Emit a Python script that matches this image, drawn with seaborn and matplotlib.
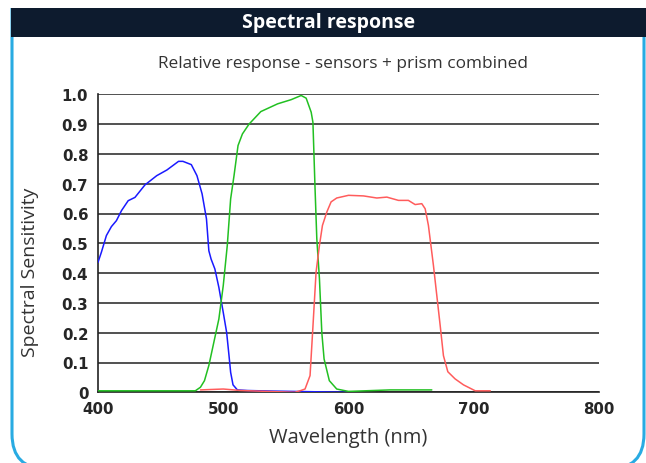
import numpy as np
import matplotlib
matplotlib.use("Agg")
import matplotlib.pyplot as plt
import seaborn as sns
from matplotlib.patches import FancyBboxPatch, Rectangle

# values
blue_nm = [400, 402.7, 406.7, 410.7, 414.7, 418.8, 424.1, 429.5, 437.5, 446.9, 455,
           464.3, 467.8, 474.5, 479, 483.1, 486.6, 488.5, 490.3, 493.3, 496.5, 500,
           502.7, 504.6, 505.9, 507.8, 511.3, 519.3, 540, 570, 600]
blue_val = [0.436, 0.47, 0.526, 0.556, 0.576, 0.61, 0.643, 0.654, 0.696, 0.727, 0.746,
            0.775, 0.775, 0.764, 0.727, 0.666, 0.582, 0.475, 0.447, 0.414, 0.352, 0.268,
            0.201, 0.123, 0.067, 0.025, 0.008, 0.006, 0.004, 0.002, 0.0]

green_nm = [400, 440, 477.7, 481.8, 485, 488.5, 492.5, 496.5, 500, 503.2, 505.9, 508.6,
            511.8, 515.3, 520.6, 530, 543.4, 554.2, 562.2, 566.2, 570.2, 571.6, 573.3,
            574.7, 576.8, 578.7, 580.5, 584.7, 590.6, 600, 633, 666.5]
green_val = [0.005, 0.005, 0.005, 0.017, 0.039, 0.09, 0.168, 0.246, 0.358, 0.492, 0.649,
             0.727, 0.828, 0.867, 0.9, 0.942, 0.968, 0.982, 0.996, 0.987, 0.94, 0.906,
             0.683, 0.515, 0.381, 0.2, 0.112, 0.039, 0.011, 0.003, 0.008, 0.008]

red_nm = [481.8, 500, 514, 535, 557, 562, 565.3, 569.3, 571.5, 574.1, 576.8, 579.2,
          582.7, 586.1, 590.6, 600, 612, 622.6, 630.6, 639.9, 647.8, 653.2, 658.5,
          661.2, 663.8, 667.8, 670.5, 673.2, 675.8, 679.3, 685.1, 691.8, 701.2, 713.2]
red_val = [0.008, 0.011, 0.006, 0.003, 0.0, 0.006, 0.011, 0.056, 0.213, 0.403, 0.493,
           0.56, 0.605, 0.639, 0.652, 0.661, 0.659, 0.652, 0.655, 0.644, 0.644, 0.63,
           0.633, 0.616, 0.56, 0.426, 0.325, 0.224, 0.123, 0.069, 0.045, 0.025, 0.005,
           0.005]

x_ticks = [400, 500, 600, 700, 800]
y_ticks = [0, 0.1, 0.2, 0.3, 0.4, 0.5, 0.6, 0.7, 0.8, 0.9, 1.0]
y_tick_labels = ["0", "0.1", "0.2", "0.3", "0.4", "0.5", "0.6", "0.7", "0.8", "0.9", "1.0"]

sns.set_style("white")
plt.rcParams['font.family'] = ['Open Sans', 'DejaVu Sans']

fig = plt.figure(figsize=(6.46, 4.64), dpi=100)
W, H = 646, 464

# card frame (pixel coordinates, origin bottom-left)
frame = FancyBboxPatch((12, -6), 632, 500, boxstyle="round,pad=0,rounding_size=35",
                       transform=None, facecolor="white", edgecolor="#29abe2",
                       linewidth=2.2, zorder=0)
fig.add_artist(frame)
fig.add_artist(Rectangle((0, H - 9), W, 9, transform=None, facecolor="white",
                         edgecolor="none", zorder=1))
fig.add_artist(Rectangle((11, H - 38), W, 29, transform=None, facecolor="#0d1b2e",
                         edgecolor="none", zorder=2))
fig.text(0.508, (H - 23) / H, "Spectral response", color="white", fontsize=14,
         fontweight="bold", ha="center", va="center", zorder=3)
fig.text(343 / W, (H - 64) / H, "Relative response - sensors + prism combined",
         color="#333333", fontsize=12.4, ha="center", va="center")

ax = fig.add_axes([98 / W, 70.7 / H, 501 / W, 298 / H])
ax.patch.set_alpha(0)

sns.lineplot(x=blue_nm, y=blue_val, color="#1a1aff", linewidth=1.1, sort=False,
             estimator=None, ax=ax, zorder=3)
sns.lineplot(x=green_nm, y=green_val, color="#22c022", linewidth=1.1, sort=False,
             estimator=None, ax=ax, zorder=3)
sns.lineplot(x=red_nm, y=red_val, color="#ff5c5c", linewidth=1.1, sort=False,
             estimator=None, ax=ax, zorder=3)

ax.set_xlim(400, 800)
ax.set_ylim(0, 1.0)
ax.set_xticks(x_ticks)
ax.set_yticks(y_ticks)
ax.set_yticklabels(y_tick_labels)
for lab in ax.get_xticklabels() + ax.get_yticklabels():
    lab.set_fontfamily("DejaVu Sans")
    lab.set_fontweight("bold")
    lab.set_fontsize(10.8)
ax.tick_params(axis="x", direction="out", length=4, width=1.2, color="#222222", pad=2)
ax.tick_params(axis="y", direction="out", length=3, width=1.2, color="#222222", pad=4)

ax.yaxis.grid(True, color="#222222", linewidth=1.1)
ax.set_axisbelow(True)
for side in ["top", "right"]:
    ax.spines[side].set_visible(False)
for side in ["left", "bottom"]:
    ax.spines[side].set_color("#222222")
    ax.spines[side].set_linewidth(1.2)

ax.set_xlabel("Wavelength (nm)", fontsize=14.5, color="#333333", labelpad=8)
ax.set_ylabel("Spectral Sensitivity", fontsize=14, color="#333333")
ax.yaxis.set_label_coords(-0.118, 0.407)

fig.savefig("out.png", dpi=100)
